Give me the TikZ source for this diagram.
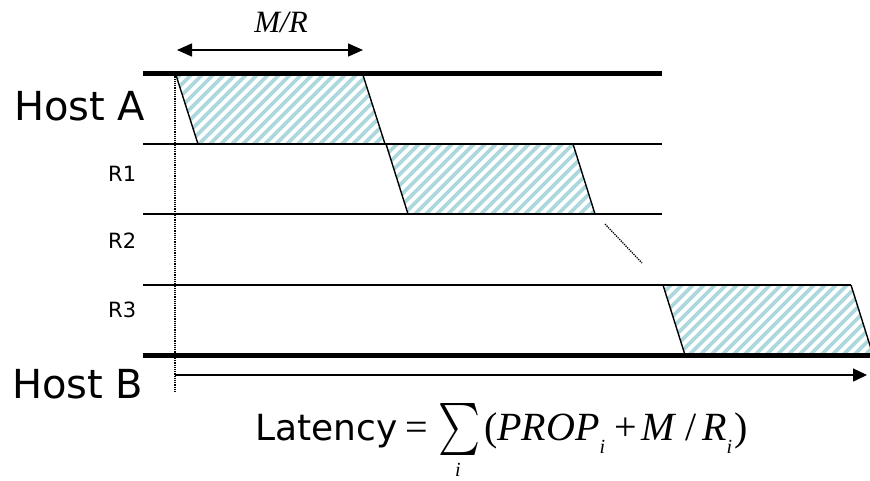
\documentclass[tikz,border=0pt]{standalone}
\usepackage{fontspec}
\usepackage{graphicx}
\setmainfont{DejaVu Sans}
\newfontfamily\tms{Liberation Serif}
\usetikzlibrary{arrows.meta}

\definecolor{hatch}{RGB}{172,216,221}

\begin{document}
\begin{tikzpicture}[x=1pt,y=-1pt,
  hostline/.style={line width=5pt},
  linkline/.style={line width=1.4pt},
  stripe/.style={line width=3.8pt,draw=hatch},
  pktedge/.style={line width=1.4pt},
  hostlabel/.style={anchor=base west,inner sep=0pt,font=\fontsize{40}{48}\selectfont},
  rlabel/.style={anchor=base west,inner sep=0pt,font=\fontsize{21}{25}\selectfont},
  mathtxt/.style={inner sep=0pt,font=\tms\fontsize{40}{48}\selectfont},
  tip/.style={-{Triangle[length=14pt,width=13pt]}}]

\clip (0,0) rectangle (870,480);

% packet transmissions: hatched parallelograms
\begin{scope}
  \clip (175,72) -- (362,72) -- (385,144) -- (198,144) -- cycle;
  \foreach \x in {100,111,...,390} \draw[stripe] (\x,144) -- ++(72,-72);
\end{scope}
\begin{scope}
  \clip (386,144) -- (573,144) -- (595,214) -- (408,214) -- cycle;
  \foreach \x in {316,327,...,600} \draw[stripe] (\x,214) -- ++(70,-70);
\end{scope}
\begin{scope}
  \clip (663,285) -- (851,285) -- (873,355) -- (685,355) -- cycle;
  \foreach \x in {590,601,...,880} \draw[stripe] (\x,355) -- ++(70,-70);
\end{scope}

% slanted sides of each packet
\draw[pktedge] (175,72) -- (198,144) (362,72) -- (385,144);
\draw[pktedge] (386,144) -- (408,214) (573,144) -- (595,214);
\draw[pktedge] (663,285) -- (685,355) (851,285) -- (873,355);

% hosts and routers
\draw[hostline] (143,73) -- (662,73);
\draw[linkline] (143,144) -- (662,144);
\draw[linkline] (143,214) -- (662,214);
\draw[linkline] (143,285) -- (851,285);
\draw[hostline] (143,355) -- (872,355);

% start-time marker and elided hops
\draw[densely dotted, line width=1.2pt] (175,72) -- (175,393);
\draw[densely dotted, line width=1.3pt] (605,224) -- (642,263);

% transmission time M/R
\coordinate (mrl) at (177,50);
\coordinate (mrr) at (363,50);
\draw[line width=1.6pt,{Triangle[length=15pt,width=13pt]}-{Triangle[length=15pt,width=13pt]}] (mrl) -- (mrr);
\node[inner sep=0pt,font=\tms\itshape\fontsize{31}{36}\selectfont] (mr) at (281,22) {M/R};

% time axis
\coordinate (t0) at (175,375);
\coordinate (t1) at (867,375);
\draw[linkline,tip] (t0) -- (t1);

% labels
\node[hostlabel] (hosta) at (14,120) {Host A};
\node[hostlabel] (hostb) at (12,398) {Host B};
\node[rlabel] (r1) at (108,181) {R1};
\node[rlabel] (r2) at (108,248) {R2};
\node[rlabel] (r3) at (108,317) {R3};

% latency formula
\node[anchor=base west,inner sep=0pt,font=\fontsize{36}{42}\selectfont] (lat) at (255,440) {Latency};
\node[mathtxt,anchor=base] (eq) at (417,440) {=};
\node[inner sep=0pt] (sum) at (459,429) {\resizebox*{42pt}{52pt}{$\sum$}};
\node[inner sep=0pt,anchor=base,font=\tms\itshape\fontsize{20}{24}\selectfont] (sumi) at (458,476) {i};
\node[mathtxt,anchor=base west] (terms) at (484,440)
  {(\textit{PROP}\raisebox{-13pt}{\fontsize{20}{24}\selectfont\itshape i}\hspace{9pt}+\hspace{5pt}\textit{M}\hspace{9pt}/\hspace{5pt}\textit{R}\raisebox{-13pt}{\fontsize{20}{24}\selectfont\itshape i}\hspace{2pt})};

\end{tikzpicture}
\end{document}
